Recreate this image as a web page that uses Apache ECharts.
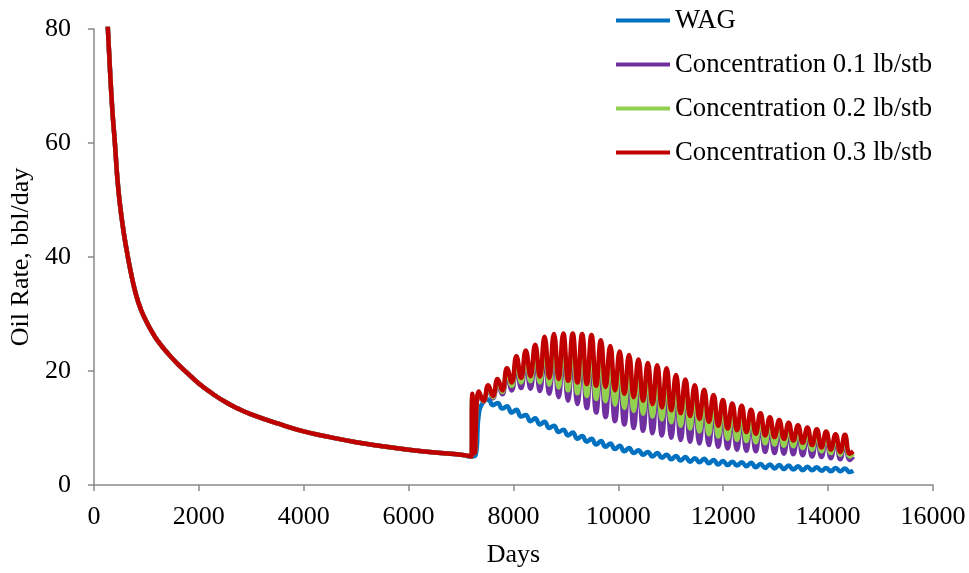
<!DOCTYPE html>
<html>
<head>
<meta charset="utf-8">
<script src="https://cdn.jsdelivr.net/npm/echarts@6/dist/echarts.min.js"></script>
<style>
html,body{margin:0;padding:0;background:#fff;}
#chart{width:969px;height:573px;}
</style>
</head>
<body>
<div id="chart"></div>
<script>
// ---- Data ----
const seriesNames = ['WAG', 'Concentration 0.1 lb/stb', 'Concentration 0.2 lb/stb', 'Concentration 0.3 lb/stb'];
const xTicks = [0, 2000, 4000, 6000, 8000, 10000, 12000, 14000, 16000];
const yTicks = [0, 20, 40, 60, 80];

// primary depletion (shared by all cases)
const declineDays = [250, 300, 350, 400, 450, 500, 550, 600, 700, 800, 900, 1000, 1100, 1200, 1400, 1600, 1800, 2000, 2250, 2500, 2750, 3000, 3500, 4000, 4500, 5000, 5500, 6000, 6500, 7000, 7200];
const declineRates = [83, 74, 66, 60, 53.5, 49, 45.5, 42.5, 37.5, 33.5, 30.7, 28.7, 27.0, 25.5, 23.2, 21.2, 19.5, 17.8, 16.1, 14.6, 13.4, 12.4, 10.8, 9.4, 8.4, 7.5, 6.8, 6.2, 5.7, 5.3, 5.0];

// transition at start of injection
const concTransDays = [7215, 7260];
const redTrans = [16.0, 5.6];
const greenTrans = [15.6, 5.6];
const purpleTrans = [15.2, 5.6];
const wagTransDays = [7280];
const wagTrans = [5.3];

// cyclic injection: peak and trough days
const peakDays = [7340, 7519, 7698, 7877, 8056, 8235, 8414, 8593, 8772, 8951, 9130, 9309, 9488, 9667, 9846, 10025, 10204, 10383, 10562, 10741, 10920, 11099, 11278, 11457, 11636, 11815, 11994, 12173, 12352, 12531, 12710, 12889, 13068, 13247, 13426, 13605, 13784, 13963, 14142, 14321];
const troughDays = [7430, 7609, 7788, 7967, 8146, 8325, 8504, 8683, 8862, 9041, 9220, 9399, 9578, 9757, 9936, 10115, 10294, 10473, 10652, 10831, 11010, 11189, 11368, 11547, 11726, 11905, 12084, 12263, 12442, 12621, 12800, 12979, 13158, 13337, 13516, 13695, 13874, 14053, 14232, 14411];
const endDay = 14480;

const wagPeaks = [12.5, 15.0, 14.4, 13.8, 13.2, 12.3, 11.7, 11.1, 10.4, 9.7, 9.2, 8.6, 8.1, 7.7, 7.3, 6.9, 6.5, 6.1, 5.8, 5.6, 5.3, 5.1, 4.9, 4.7, 4.6, 4.4, 4.2, 4.1, 4.0, 3.9, 3.7, 3.6, 3.5, 3.4, 3.3, 3.2, 3.1, 3.0, 3.0, 2.9];
const wagTroughs = [14.6, 14.0, 13.4, 12.7, 12.0, 11.2, 10.6, 10.0, 9.3, 8.7, 8.1, 7.6, 7.1, 6.7, 6.3, 5.9, 5.6, 5.3, 5.0, 4.8, 4.5, 4.3, 4.1, 4.0, 3.8, 3.6, 3.5, 3.4, 3.3, 3.1, 3.0, 2.9, 2.8, 2.7, 2.6, 2.6, 2.5, 2.4, 2.4, 2.3];
const wagEnd = 2.5;

const c1Peaks = [16.0, 16.9, 17.8, 19.0, 20.5, 21.3, 21.9, 22.7, 22.9, 22.7, 22.4, 22.1, 21.7, 20.9, 20.0, 19.2, 18.6, 17.9, 17.4, 17.0, 16.5, 15.6, 15.0, 14.2, 13.6, 12.9, 12.2, 11.8, 11.5, 11.0, 10.5, 10.0, 9.6, 9.2, 8.9, 8.6, 8.4, 8.0, 7.7, 7.6];
const c1Troughs = [14.6, 15.2, 15.9, 16.6, 17.0, 16.9, 16.5, 16.0, 15.4, 14.8, 14.2, 13.5, 12.7, 11.9, 11.2, 10.6, 10.0, 9.5, 9.1, 8.7, 8.3, 7.9, 7.6, 7.3, 7.0, 6.7, 6.4, 6.2, 6.0, 5.9, 5.8, 5.6, 5.5, 5.4, 5.2, 5.0, 4.9, 4.7, 4.5, 4.4];
const c1End = 5.0;

const c2Peaks = [16.2, 17.2, 18.2, 19.8, 21.6, 22.5, 23.3, 24.4, 24.8, 24.8, 24.7, 24.5, 24.2, 23.4, 22.4, 21.5, 20.9, 20.1, 19.5, 19.1, 18.6, 17.6, 16.9, 16.0, 15.3, 14.5, 13.8, 13.2, 12.9, 12.3, 11.7, 11.1, 10.7, 10.2, 9.8, 9.5, 9.2, 8.8, 8.4, 8.3];
const c2Troughs = [14.7, 15.4, 16.3, 17.4, 18.0, 18.2, 18.0, 17.6, 17.1, 16.6, 16.1, 15.6, 15.1, 14.7, 14.1, 13.5, 13.0, 12.5, 12.0, 11.5, 11.0, 10.4, 9.9, 9.4, 8.9, 8.5, 8.1, 7.9, 7.7, 7.5, 7.3, 7.1, 6.9, 6.8, 6.5, 6.2, 5.9, 5.6, 5.3, 5.0];
const c2End = 5.5;

const c3Peaks = [16.4, 17.5, 18.6, 20.5, 22.6, 23.6, 24.6, 26.0, 26.5, 26.6, 26.6, 26.5, 26.3, 25.4, 24.4, 23.4, 22.8, 22.0, 21.4, 21.0, 20.5, 19.3, 18.5, 17.5, 16.7, 15.8, 14.9, 14.3, 13.9, 13.2, 12.6, 11.9, 11.4, 10.9, 10.5, 10.1, 9.8, 9.4, 8.9, 8.8];
const c3Troughs = [14.8, 15.6, 16.6, 18.0, 18.8, 19.1, 19.0, 18.8, 18.6, 18.3, 18.0, 17.7, 17.4, 17.2, 16.6, 16.0, 15.4, 14.8, 14.2, 13.6, 13.1, 12.6, 12.1, 11.6, 11.1, 10.4, 9.9, 9.6, 9.3, 9.0, 8.7, 8.4, 8.1, 7.8, 7.4, 7.0, 6.6, 6.2, 5.8, 5.5];
const c3End = 5.9;

const colors = ['#0070C0', '#7030A0', '#92D050', '#C00000'];

// ---- Build series data ----
function build(transDays, transVals, peaks, troughs, endVal) {
  const d = [];
  for (let i = 0; i < declineDays.length; i++) d.push([declineDays[i], declineRates[i]]);
  for (let i = 0; i < transDays.length; i++) d.push([transDays[i], transVals[i]]);
  for (let i = 0; i < peakDays.length; i++) {
    d.push([peakDays[i], peaks[i]]);
    d.push([troughDays[i], troughs[i]]);
  }
  d.push([endDay, endVal]);
  return d;
}

const datasets = [
  build(wagTransDays, wagTrans, wagPeaks, wagTroughs, wagEnd),
  build(concTransDays, purpleTrans, c1Peaks, c1Troughs, c1End),
  build(concTransDays, greenTrans, c2Peaks, c2Troughs, c2End),
  build(concTransDays, redTrans, c3Peaks, c3Troughs, c3End)
];

const font = '"Liberation Serif", "Times New Roman", serif';
const axisColor = '#898989';

const chart = echarts.init(document.getElementById('chart'), null, {renderer: 'canvas'});
chart.setOption({
  animation: false,
  backgroundColor: '#ffffff',
  color: colors,
  grid: {left: 93, right: 36, top: 29, bottom: 88, containLabel: false},
  legend: {
    orient: 'vertical',
    left: 611,
    top: 2,
    itemWidth: 54,
    itemHeight: 4,
    itemGap: 17,
    icon: 'rect',
    data: seriesNames,
    textStyle: {fontFamily: font, fontSize: 26.7, color: '#000', lineHeight: 27}
  },
  xAxis: {
    type: 'value',
    min: xTicks[0],
    max: xTicks[xTicks.length - 1],
    interval: xTicks[1] - xTicks[0],
    name: 'Days',
    nameLocation: 'middle',
    nameGap: 57,
    nameTextStyle: {fontFamily: font, fontSize: 26, color: '#000'},
    axisLine: {show: true, lineStyle: {color: axisColor, width: 1.5}},
    axisTick: {show: true, length: 6, lineStyle: {color: axisColor, width: 1.5}},
    axisLabel: {fontFamily: font, fontSize: 26, color: '#000', margin: 19, formatter: v => String(v)},
    splitLine: {show: false}
  },
  yAxis: {
    type: 'value',
    min: yTicks[0],
    max: yTicks[yTicks.length - 1],
    interval: yTicks[1] - yTicks[0],
    name: 'Oil Rate, bbl/day',
    nameLocation: 'middle',
    nameGap: 50,
    nameTextStyle: {fontFamily: font, fontSize: 26, color: '#000'},
    axisLine: {show: true, lineStyle: {color: axisColor, width: 1.5}},
    axisTick: {show: true, length: 6, lineStyle: {color: axisColor, width: 1.5}},
    axisLabel: {fontFamily: font, fontSize: 26, color: '#000', margin: 23, formatter: v => String(v)},
    splitLine: {show: false}
  },
  series: seriesNames.map((n, i) => ({
    name: n,
    type: 'line',
    data: datasets[i],
    smooth: 0.5,
    showSymbol: false,
    symbol: 'none',
    clip: true,
    lineStyle: {color: colors[i], width: 4.5},
    itemStyle: {color: colors[i]},
    z: 2 + i
  }))
});
</script>
</body>
</html>
